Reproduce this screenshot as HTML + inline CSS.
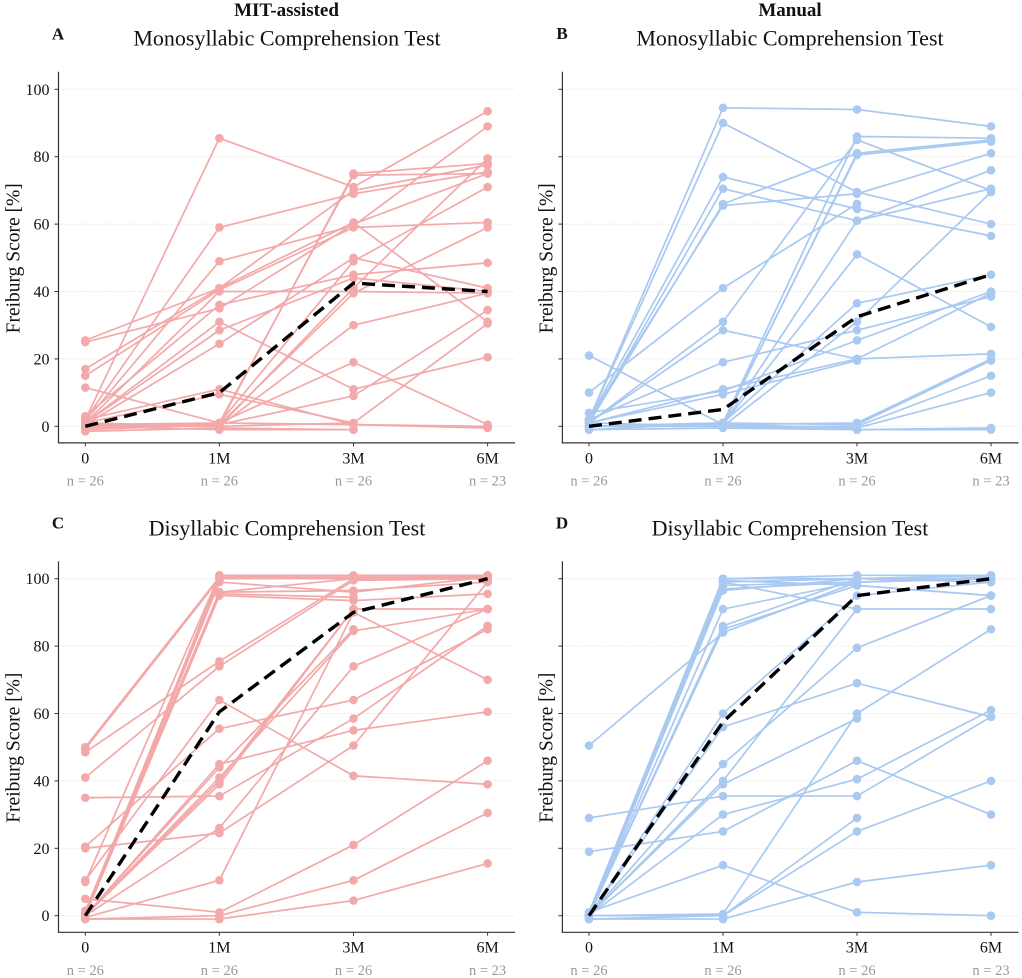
<!DOCTYPE html>
<html>
<head>
<meta charset="utf-8">
<title>Freiburg Score Chart</title>
<style>
html,body{margin:0;padding:0;background:#fff;}
svg{display:block;font-family:"Liberation Serif",serif;}
</style>
</head>
<body>
<svg id="chart" width="1022" height="978" viewBox="0 0 1022 978" xmlns="http://www.w3.org/2000/svg">
<text x="286.5" y="16" font-size="19" font-weight="bold" text-anchor="middle" fill="#111">MIT-assisted</text>
<text x="790" y="16" font-size="19" font-weight="bold" text-anchor="middle" fill="#111">Manual</text>
</svg>
<script>
const categories = ['0', '1M', '3M', '6M'];
const sampleLabels = ['n = 26', 'n = 26', 'n = 26', 'n = 23'];
const yTicks = [0, 20, 40, 60, 80, 100];

const meanA = [0, 10, 42.5, 40];
const meanB = [0, 5, 32.5, 45];
const meanC = [0, 60.5, 90, 100];
const meanD = [0, 57.5, 95, 100];

const patientsA = [
[25.5,41,70,77.5],[25,35,60,75],[17,41,60.5,31],[15,40.5,59,60.5],[11.5,1,0.5,0],
[2,85.5,71,93.5],[2,59,69,75.5],[1.5,49,59.5,89],[3,36,45,48.5],[1,31,11,20.5],
[1,28.5,44,40],[0.5,24.5,50,41],[1,40,40,39.5],[2,11,0.5,-0.5],[1,9.5,1,null],
[0.5,1,74.5,75],[0,0.5,75,78],[0,0,41,79.5],[0,1,49,71],[-0.5,0.5,39.5,59],
[0,0,30,39.5],[0,1,19,0.5],[-1,0.5,9,34.5],[1,0,1,30.5],[0,-1,-1,null],[-1.5,-0.5,-1,null]
];
const patientsB = [
[2,94.5,94,89],[2,90,69.5,60],[2,74,64.5,56.5],[1,70.5,61,76],[1,66,81,null],
[2,65.5,69,81],[10,41,66,null],[1,31,85,70],[1,28.5,20,21.5],[2,19,28.5,38.5],
[1,11,20,39.5],[4,10.5,25.5,40],[1,9.5,19.5,null],[21,0.5,61,70.5],[0,1,86,85.5],
[0,0.5,81,85],[0,1,80.5,84.5],[0,0.5,51,29.5],[0,1,36.5,45],[0,0,31,69.5],
[-1,1,0.5,19.5],[0,0.5,1,20],[0,0,0,15],[0,0.5,-0.5,10],[1,0,-1,-0.5],[-1,-0.5,-1,-1]
];
const patientsC = [
[50,100.5,100.5,100.5],[49.5,100,100,100],[48.5,75.5,100,101],[41,74,99.5,100],[35,35.5,58.5,86],
[20.5,55.5,64,85],[20,24.5,50.5,99],[10.5,64,41.5,39],[10,101,101,101],[5,1,21,46],
[1.5,96,96.5,99],[1,95.5,94.5,null],[0,95,93.5,95.5],[0,96,100,100],[0,99,96,100.5],
[0,101,100,100.5],[0,45,55,60.5],[0,44,85,null],[0,41,84.5,91],[0,40,91,91],
[0,39,91,null],[0,26,74,91],[-0.5,10.5,90,70],[-1,0,10.5,30.5],[-1,-1,4.5,15.5],[1,100,100,100]
];
const patientsD = [
[50.5,84,99,100],[29,35.5,35.5,59],[19,25,46,30],[1,15,1,0],[1,100,100,101],
[0,100,101,101],[0,99.5,98,95],[0,99,91,91],[0,98,99,100],[0,96.5,100,99],
[0,91,99,100.5],[0,86,100,100],[0,85,98,95],[0,60,95,99],[0,56,69,59],
[0,45,79.5,95],[0,40,91,null],[0,39,58.5,null],[0,30,40.5,61],[0,0.5,60,85],
[0,0,29,null],[-1,0,25,40],[-1,-1,10,15],[0,100,100,100],[0,99,100,101],[0,97,99,100]
];

const NS = 'http://www.w3.org/2000/svg';
const root = document.getElementById('chart');
const PINK = '#f3a9a9';
const BLUE = '#a9c9f1';

function mk(parent, tag, attrs, text) {
  const el = document.createElementNS(NS, tag);
  for (const k in attrs) el.setAttribute(k, attrs[k]);
  if (text !== undefined) el.textContent = text;
  parent.appendChild(el);
  return el;
}

function drawPanel(cfg) {
  const xAt = i => cfg.x0 + i * cfg.dx;
  const yAt = v => cfg.y0 - v * 3.37;
  const g = mk(root, 'g', {});
  
  

  const letter = mk(g, 'text', {x: cfg.letterX, y: cfg.letterY, 'font-size': 17, 'font-weight': 'bold', 'text-anchor': 'middle', fill: '#111'}, cfg.letter);
  
  

  const title = mk(g, 'text', {x: cfg.titleX, y: cfg.titleY, 'font-size': 22, 'text-anchor': 'middle', fill: '#111'}, cfg.title);
  
  

  const axisTitle = mk(g, 'text', {transform: 'translate(' + cfg.yTitleX + ',' + (cfg.y0 - 168) + ') rotate(-90)', 'font-size': 19.5, 'text-anchor': 'middle', fill: '#111'}, 'Freiburg Score [%]');
  
  

  yTicks.forEach(function (t) {
    const grid = mk(g, 'line', {x1: cfg.axisX + 1, x2: cfg.rightX, y1: yAt(t), y2: yAt(t), stroke: '#dcdcdc', 'stroke-width': 1, 'stroke-dasharray': '1 2'});
    
    
    const tick = mk(g, 'line', {x1: cfg.axisX - 4, x2: cfg.axisX, y1: yAt(t), y2: yAt(t), stroke: '#333', 'stroke-width': 1});
    
    
    if (cfg.showYLabels) {
      const lab = mk(g, 'text', {x: cfg.axisX - 9, y: yAt(t) + 5.5, 'font-size': 16, 'text-anchor': 'end', fill: '#111'}, String(t));
      
      
    }
  });

  const yAxis = mk(g, 'line', {x1: cfg.axisX, x2: cfg.axisX, y1: cfg.y0 - 354.5, y2: cfg.y0 + 17, stroke: '#333', 'stroke-width': 1.2});
  
  
  const xAxis = mk(g, 'line', {x1: cfg.axisX - 0.6, x2: cfg.rightX, y1: cfg.y0 + 16.6, y2: cfg.y0 + 16.6, stroke: '#333', 'stroke-width': 1.2});
  
  

  categories.forEach(function (c, i) {
    const tick = mk(g, 'line', {x1: xAt(i), x2: xAt(i), y1: cfg.y0 + 17, y2: cfg.y0 + 20, stroke: '#333', 'stroke-width': 1});
    
    
    const lab = mk(g, 'text', {x: xAt(i), y: cfg.y0 + 37, 'font-size': 16, 'text-anchor': 'middle', fill: '#111'}, c);
    
    
    const n = mk(g, 'text', {x: xAt(i), y: cfg.y0 + 59.3, 'font-size': 14.5, 'text-anchor': 'middle', fill: '#9a9a9a'}, sampleLabels[i]);
    
    
  });

  cfg.patients.forEach(function (series) {
    const sg = mk(g, 'g', {});
    
    
    const pts = [];
    series.forEach(function (v, i) { if (v !== null) pts.push(xAt(i) + ',' + yAt(v)); });
    mk(sg, 'polyline', {points: pts.join(' '), fill: 'none', stroke: cfg.color, 'stroke-width': 1.7, 'stroke-linejoin': 'round'});
    series.forEach(function (v, i) {
      if (v !== null) mk(sg, 'circle', {cx: xAt(i), cy: yAt(v), r: 4.3, fill: cfg.color});
    });
  });

  const meanPts = cfg.mean.map(function (v, i) { return xAt(i) + ',' + yAt(v); }).join(' ');
  const meanLine = mk(g, 'polyline', {points: meanPts, fill: 'none', stroke: '#000', 'stroke-width': 3.4, 'stroke-dasharray': '13 7', 'stroke-linejoin': 'round'});
  
  
}

drawPanel({letter: 'A', letterX: 58, letterY: 39.5, title: 'Monosyllabic Comprehension Test', titleX: 287, titleY: 45.5, x0: 85.3, dx: 134.1, y0: 426.3, axisX: 58.5, rightX: 515, yTitleX: 19.5, showYLabels: true, color: PINK, patients: patientsA, mean: meanA});
drawPanel({letter: 'B', letterX: 562, letterY: 39, title: 'Monosyllabic Comprehension Test', titleX: 790, titleY: 45.5, x0: 589, dx: 134, y0: 426.3, axisX: 562.4, rightX: 1018.5, yTitleX: 552.5, showYLabels: false, color: BLUE, patients: patientsB, mean: meanB});
drawPanel({letter: 'C', letterX: 58, letterY: 528.5, title: 'Disyllabic Comprehension Test', titleX: 287, titleY: 535.5, x0: 85.3, dx: 134.1, y0: 915.7, axisX: 58.5, rightX: 515, yTitleX: 19.5, showYLabels: true, color: PINK, patients: patientsC, mean: meanC});
drawPanel({letter: 'D', letterX: 562, letterY: 528.5, title: 'Disyllabic Comprehension Test', titleX: 790, titleY: 535.5, x0: 589, dx: 134, y0: 915.7, axisX: 562.4, rightX: 1018.5, yTitleX: 552.5, showYLabels: false, color: BLUE, patients: patientsD, mean: meanD});
</script>
</body>
</html>
